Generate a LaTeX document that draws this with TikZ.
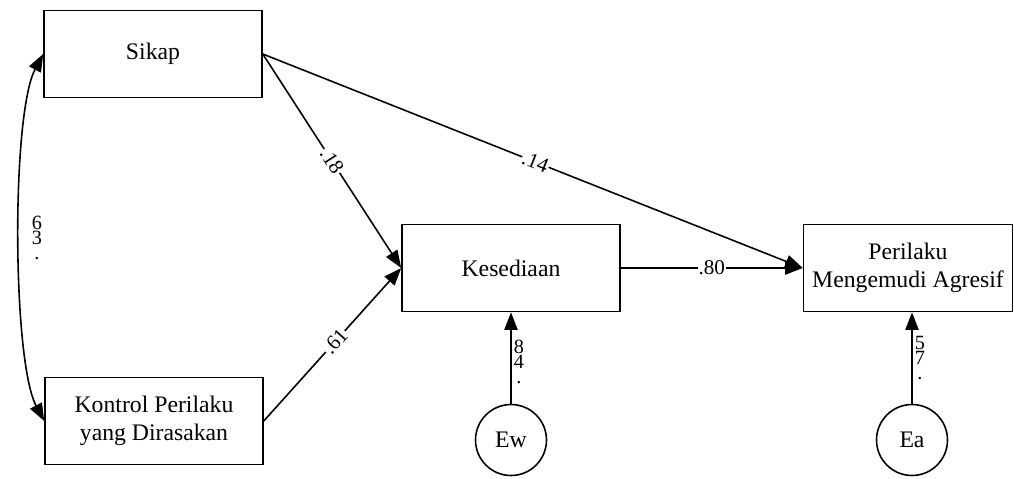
\documentclass[tikz,border=0pt]{standalone}
\usepackage{fontspec}
\setmainfont{Liberation Serif}
\usetikzlibrary{arrows.meta}
\begin{document}
\begin{tikzpicture}[x=0.02cm,y=-0.02cm,
  box/.style={draw,line width=0.9pt,minimum width=4.36cm,minimum height=1.74cm,align=center,font=\fontsize{13.5}{16}\selectfont,inner sep=0pt},
  err/.style={draw,circle,line width=0.9pt,minimum size=1.42cm,inner sep=0pt,font=\fontsize{13.5}{16}\selectfont},
  path/.style={line width=0.9pt,-{Triangle[length=10pt,width=7.5pt]}},
  coef/.style={font=\fontsize{12}{14}\selectfont,fill=white,inner sep=0.5pt},
  stk/.style={font=\fontsize{11.5}{8.5}\selectfont,fill=white,inner sep=0.5pt,align=center}]
\useasboundingbox (0,0) rectangle (1014,478);
\node[box] (sikap) at (153,54) {Sikap};
\node[box] (kontrol) at (154,421) {Kontrol Perilaku\\yang Dirasakan};
\node[box] (kes) at (511,268) {Kesediaan};
\node[box,minimum width=4.18cm] (per) at (908,268) {Perilaku\\Mengemudi Agresif};
\node[err] (ew) at (511,440) {Ew};
\node[err] (ea) at (912,440) {Ea};
\draw[path] (sikap.east) -- node[coef,sloped,pos=0.505]{.14} (per.west);
\draw[path] (sikap.east) -- node[coef,sloped,pos=0.5]{.18} (kes.west);
\draw[path] (kontrol.east) -- node[coef,sloped,pos=0.52]{.61} (kes.west);
\draw[path] (kes.east) -- node[coef,pos=0.5]{.80} (per.west);
\draw[path] (ew.north) -- (kes.south);
\draw[path] (ea.north) -- (ea.north |- per.south);
\node[stk] (lew) at (519,362) {8\\4\\.};
\node[stk] (lea) at (920,358) {5\\7\\.};
\draw[line width=0.9pt,{Triangle[length=10pt,width=7.5pt]}-{Triangle[length=10pt,width=7.5pt]}]
  (sikap.west) .. controls +(-32,60) and +(-32,-60) .. (kontrol.west);
\node[stk] (lcor) at (37,238) {6\\3\\.};
\end{tikzpicture}
\end{document}
